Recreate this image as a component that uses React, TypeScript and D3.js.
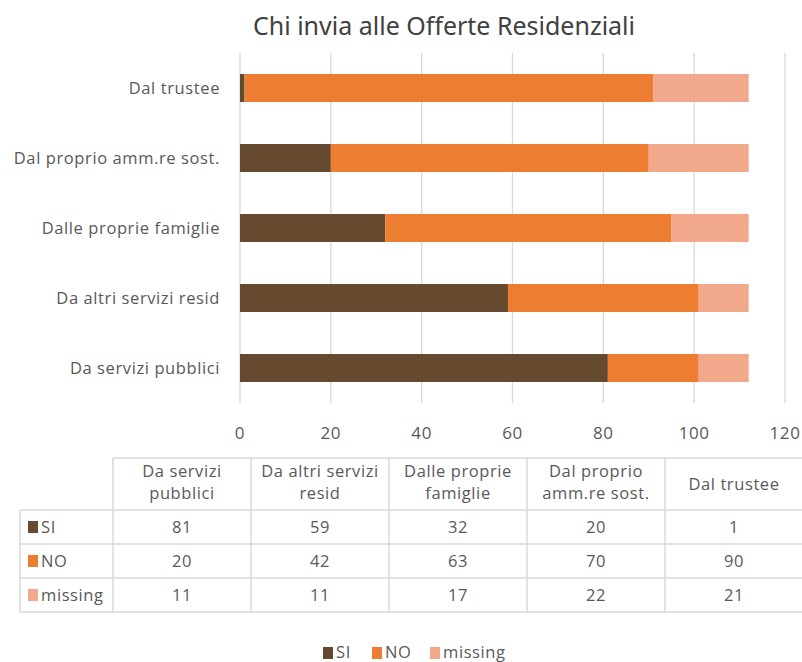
import React from "react";
import * as d3 from "d3";

const categories = [
  "Da servizi pubblici",
  "Da altri servizi resid",
  "Dalle proprie famiglie",
  "Dal proprio amm.re sost.",
  "Dal trustee",
];
const headerLines = [
  ["Da servizi", "pubblici"],
  ["Da altri servizi", "resid"],
  ["Dalle proprie", "famiglie"],
  ["Dal proprio", "amm.re sost."],
  ["Dal trustee"],
];
const seriesNames = ["SI", "NO", "missing"];
const siValues = [81, 59, 32, 20, 1];
const noValues = [20, 42, 63, 70, 90];
const missingValues = [11, 11, 17, 22, 21];
const xTicks = [0, 20, 40, 60, 80, 100, 120];
const colors = ["#654A2F", "#ED7D31", "#F2A88A"];

const W = 802;
const H = 662;
const FONT = "'Open Sans', Lato, sans-serif";
const TXT = "#595959";
const LS = "0.6px";
const FS = 16.5;

export default function App() {
  const seriesValues = [siValues, noValues, missingValues];
  const rows = categories.map((c, i) => ({
    cat: c,
    SI: siValues[i],
    NO: noValues[i],
    missing: missingValues[i],
  }));
  const stacked = d3.stack<any>().keys(seriesNames)(rows);

  const x = d3.scaleLinear().domain([0, 120]).range([240, 785]);
  const y = d3
    .scaleBand()
    .domain([...categories].reverse())
    .range([53, 403])
    .paddingInner(0.6)
    .paddingOuter(0.3);

  const tableLeft = 20;
  const colStart = 113;
  const colW = 138;
  const headerTop = 458;
  const rowTops = [510, 544, 578, 612];

  return (
    <svg
      width={W}
      height={H}
      style={{ position: "absolute", left: 0, top: 0, background: "#fff" }}
      fontFamily={FONT}
    >
      <rect width={W} height={H} fill="#fff" />
      <text
        x={253}
        y={35}
        fontSize={26}
        fill="#404040"
        fontFamily="'Noto Sans', sans-serif"
        textLength={382}
        lengthAdjust="spacingAndGlyphs"
      >
        Chi invia alle Offerte Residenziali
      </text>
      {xTicks.map((t) => (
        <g key={t}>
          <line x1={x(t)} x2={x(t)} y1={53} y2={403} stroke="#d9d9d9" strokeWidth={1.3} />
          <text x={x(t)} y={439} textAnchor="middle" fontSize={17} fill={TXT} style={{ letterSpacing: LS }}>
            {t}
          </text>
        </g>
      ))}
      {stacked.map((s, si) => (
        <g key={s.key} fill={colors[si]}>
          {s.map((d, i) => (
            <rect
              key={i}
              x={x(d[0])}
              width={x(d[1]) - x(d[0])}
              y={y(categories[i])}
              height={y.bandwidth()}
            />
          ))}
        </g>
      ))}
      {categories.map((c) => (
        <text
          key={c}
          x={220}
          y={(y(c) as number) + y.bandwidth() / 2}
          dy="0.35em"
          textAnchor="end"
          fontSize={FS}
          fill={TXT}
          style={{ letterSpacing: LS }}
        >
          {c}
        </text>
      ))}
      {/* table */}
      <g stroke="#d9d9d9" strokeWidth={1.5} fill="none">
        <line x1={colStart} x2={colStart + colW * 5} y1={headerTop} y2={headerTop} />
        {rowTops.map((ry) => (
          <line key={ry} x1={tableLeft} x2={colStart + colW * 5} y1={ry} y2={ry} />
        ))}
        <line x1={tableLeft} x2={tableLeft} y1={rowTops[0]} y2={rowTops[3]} />
        {d3.range(6).map((k) => (
          <line key={k} x1={colStart + colW * k} x2={colStart + colW * k} y1={headerTop} y2={rowTops[3]} />
        ))}
      </g>
      {headerLines.map((lines, i) => (
        <text key={i} textAnchor="middle" fontSize={FS} fill={TXT} style={{ letterSpacing: LS }}>
          {lines.map((ln, j) => (
            <tspan
              key={j}
              x={colStart + colW * i + colW / 2}
              y={lines.length === 1 ? 490 : 477 + j * 22}
            >
              {ln}
            </tspan>
          ))}
        </text>
      ))}
      {seriesNames.map((name, si) => {
        const cy = (rowTops[si] + rowTops[si + 1]) / 2;
        return (
          <g key={name}>
            <rect x={28} y={cy - 6} width={10} height={12} fill={colors[si]} />
            <text x={41} y={cy} dy="0.35em" fontSize={FS} fill={TXT} style={{ letterSpacing: LS }}>
              {name}
            </text>
            {seriesValues[si].map((v, i) => (
              <text
                key={i}
                x={colStart + colW * i + colW / 2}
                y={cy}
                dy="0.35em"
                textAnchor="middle"
                fontSize={FS}
                fill={TXT}
                style={{ letterSpacing: LS }}
              >
                {v}
              </text>
            ))}
          </g>
        );
      })}
      {/* legend */}
      {(() => {
        const items = [323, 372, 430];
        return seriesNames.map((n, i) => (
          <g key={n}>
            <rect x={items[i]} y={647} width={10} height={12} fill={colors[i]} />
            <text x={items[i] + 13} y={652} dy="0.35em" fontSize={FS} fill={TXT} style={{ letterSpacing: LS }}>
              {n}
            </text>
          </g>
        ));
      })()}
    </svg>
  );
}
